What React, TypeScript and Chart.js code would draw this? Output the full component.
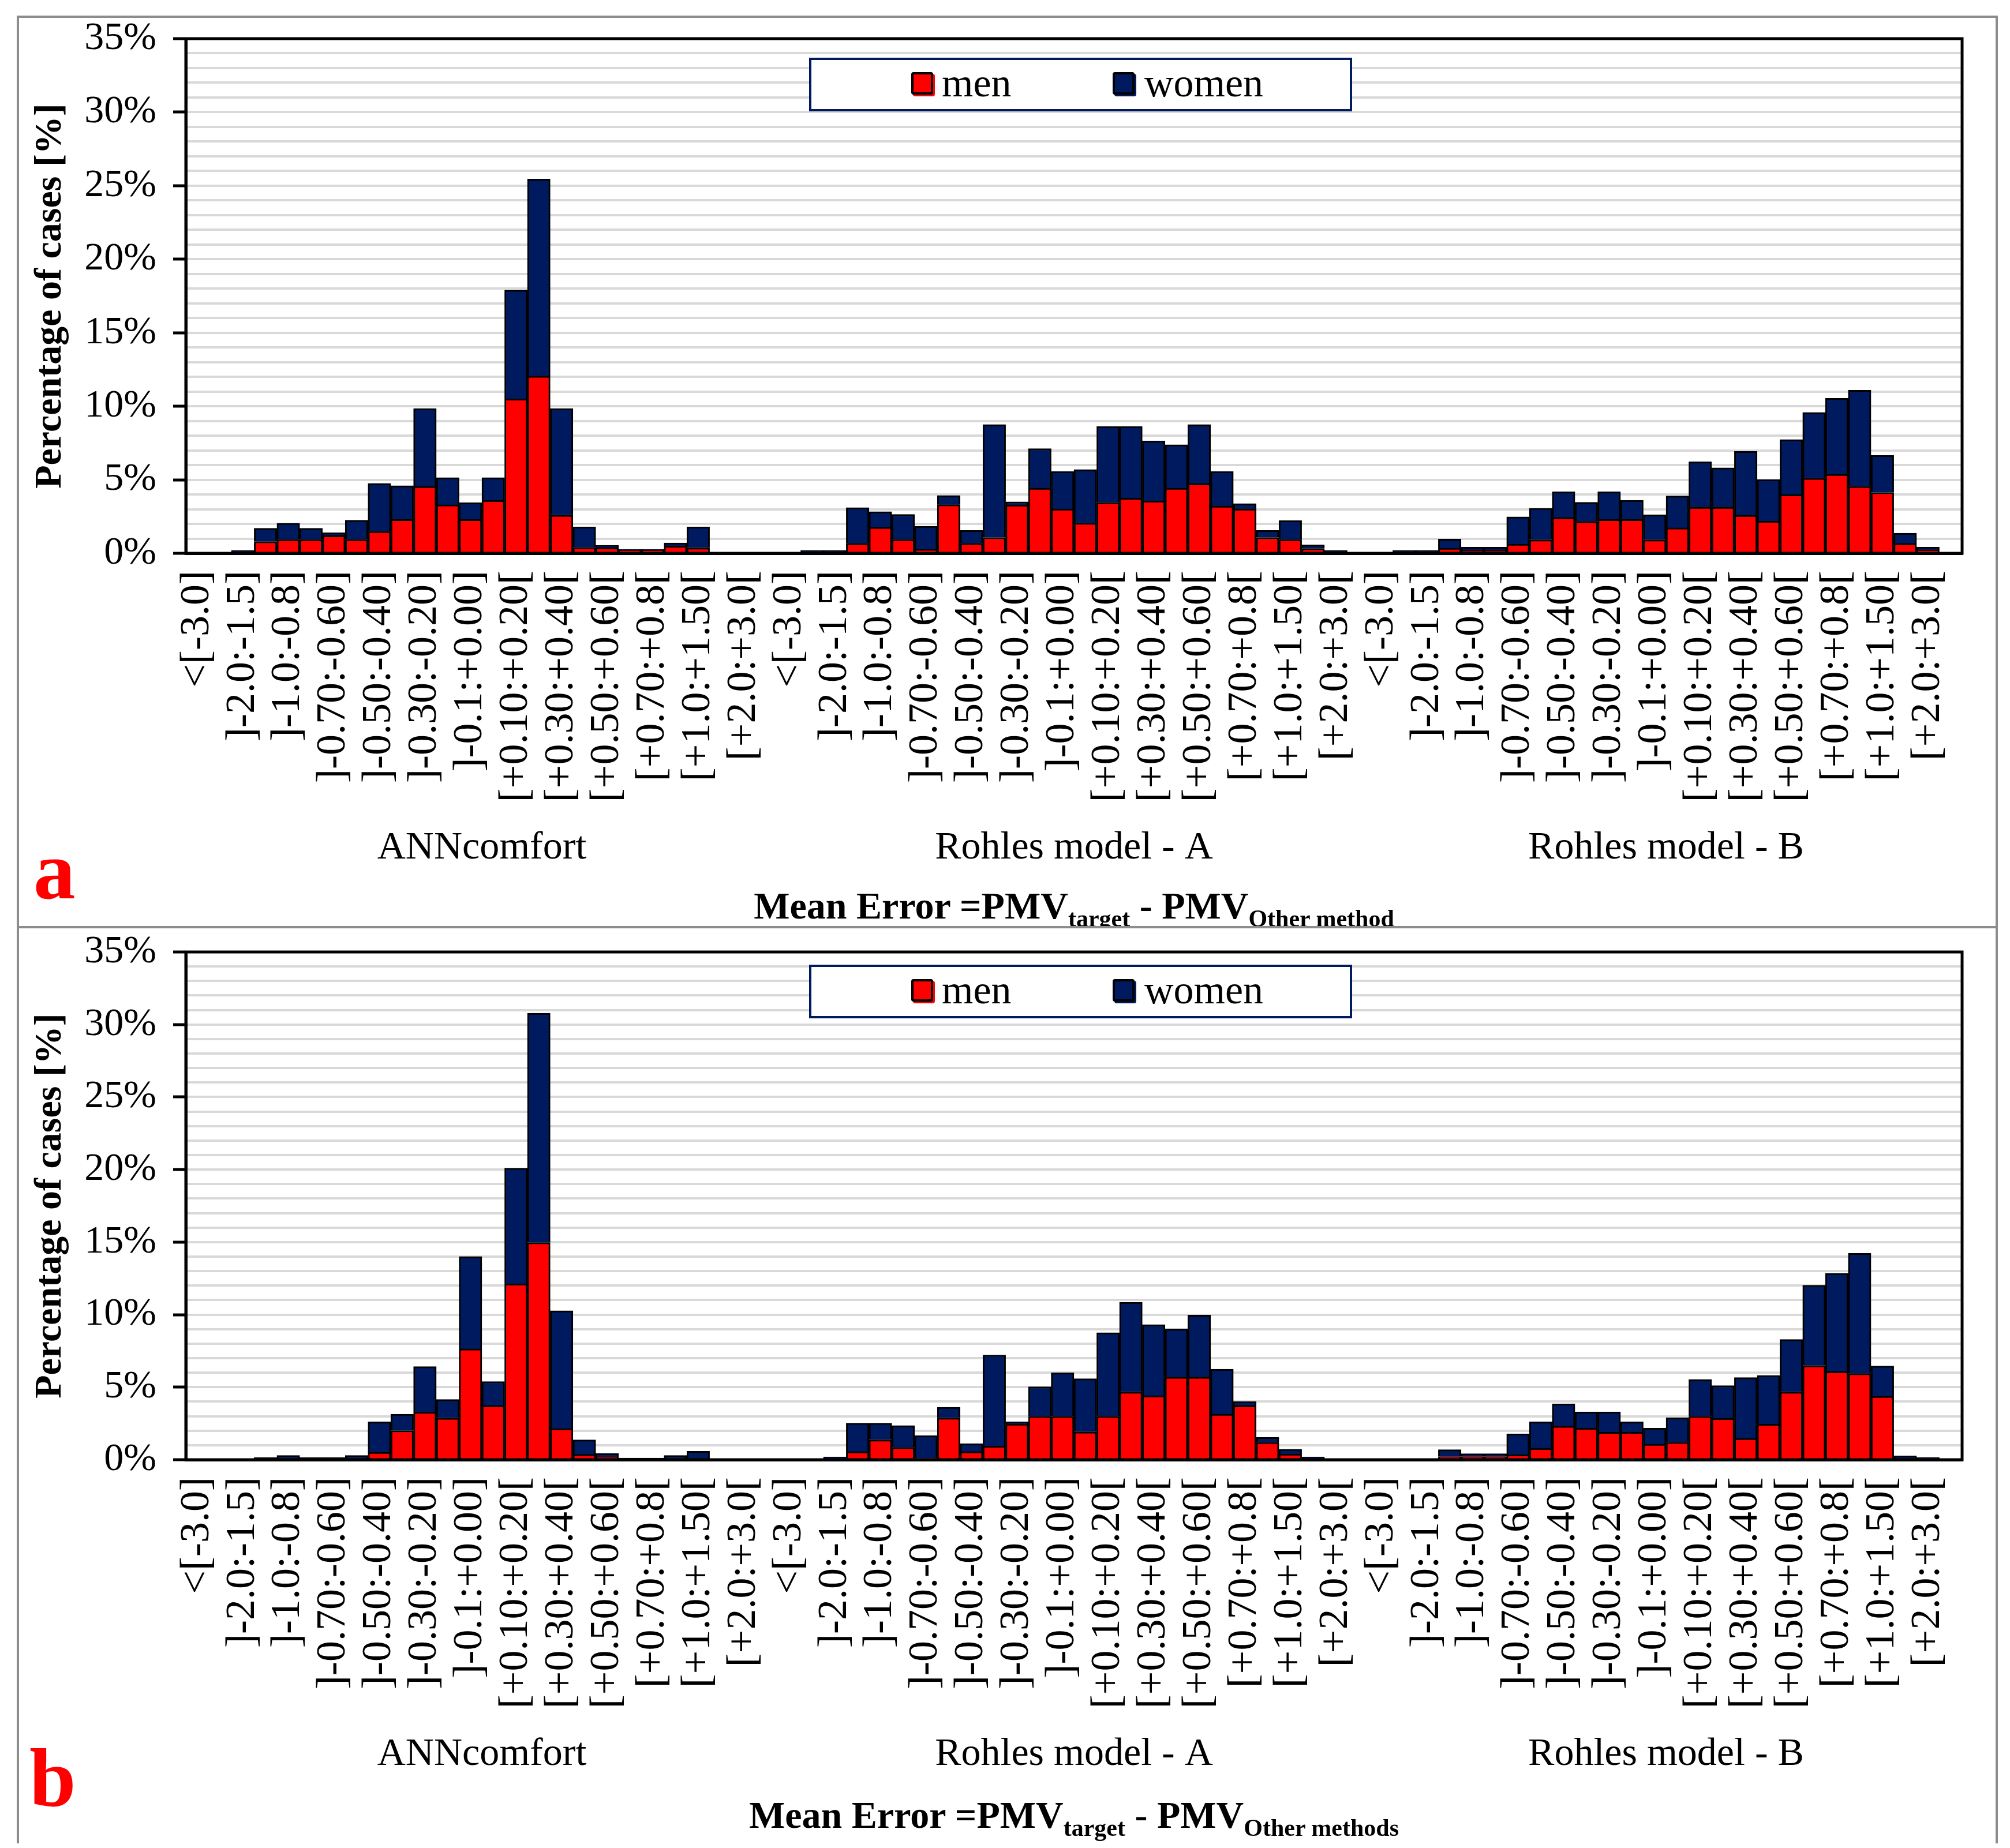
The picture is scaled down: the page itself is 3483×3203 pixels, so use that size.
import React, { useEffect, useRef } from 'react';
import { Chart, registerables } from 'chart.js';

Chart.register(...registerables);

// ---------- data ----------
const binLabels = [
  '<[-3.0]', '[-3.0:-2.0]', ']-2.0:-1.5]', ']-1.5:-1.0]', ']-1.0:-0.8]', ']-0.8:-0.70]',
  ']-0.70:-0.60]', ']-0.60:-0.50]', ']-0.50:-0.40]', ']-0.40:-0.30]', ']-0.30:-0.20]', ']-0.20:-0.1]',
  ']-0.1:+0.00]', '[0.00:+0.10[', '[+0.10:+0.20[', '[+0.20:+0.30[', '[+0.30:+0.40[', '[+0.40:+0.50[',
  '[+0.50:+0.60[', '[+0.60:+0.70[', '[+0.70:+0.8[', '[+0.8:+1.0[', '[+1.0:+1.50[', '[+1.50:+2.0[',
  '[+2.0:+3.0[', '>[+3.0[',
];
const methods = ['ANNcomfort', 'Rohles model - A', 'Rohles model - B'];
const yTickValues = [0, 5, 10, 15, 20, 25, 30, 35];

// panel a
const annMenA = [0, 0, 0.05, 0.8, 0.95, 0.95, 1.2, 0.95, 1.5, 2.3, 4.55, 3.3, 2.3, 3.6, 10.5, 12.05, 2.6, 0.4, 0.38, 0.22, 0.22, 0.5, 0.37, 0, 0, 0];
const annWomenA = [0, 0, 0.15, 0.9, 1.1, 0.75, 0.2, 1.3, 3.25, 2.3, 5.3, 1.85, 1.15, 1.55, 7.4, 13.4, 7.25, 1.4, 0.17, 0.05, 0.05, 0.2, 1.43, 0, 0, 0];
const rohAMenA = [0, 0.05, 0.05, 0.68, 1.77, 0.95, 0.26, 3.31, 0.68, 1.08, 3.29, 4.43, 3.02, 2.06, 3.47, 3.75, 3.57, 4.43, 4.73, 3.21, 3.02, 1.08, 0.95, 0.33, 0.05, 0];
const rohAWomenA = [0, 0.15, 0.15, 2.43, 1.06, 1.7, 1.58, 0.62, 0.88, 7.68, 0.21, 2.69, 2.55, 3.64, 5.16, 4.88, 4.08, 2.95, 4.03, 2.36, 0.36, 0.48, 1.27, 0.25, 0.15, 0];
const rohBMenA = [0, 0.05, 0.05, 0.35, 0.18, 0.18, 0.62, 0.92, 2.43, 2.17, 2.3, 2.3, 0.92, 1.73, 3.14, 3.14, 2.59, 2.19, 3.99, 5.11, 5.37, 4.56, 4.14, 0.66, 0.22, 0];
const rohBWomenA = [0, 0.15, 0.15, 0.62, 0.24, 0.24, 1.86, 2.15, 1.76, 1.3, 1.89, 1.31, 1.71, 2.17, 3.09, 2.67, 4.34, 2.83, 3.75, 4.47, 5.17, 6.53, 2.52, 0.71, 0.2, 0];

// panel b
const annMenB = [0, 0, 0, 0.03, 0.05, 0.03, 0.03, 0.05, 0.51, 2.01, 3.29, 2.87, 7.64, 3.74, 12.13, 14.97, 2.14, 0.36, 0.19, 0.03, 0.03, 0.05, 0.05, 0, 0, 0];
const annWomenB = [0, 0, 0, 0.12, 0.25, 0.12, 0.12, 0.25, 2.1, 1.13, 3.13, 1.28, 6.37, 1.65, 7.97, 15.81, 8.13, 1.01, 0.24, 0.09, 0.09, 0.25, 0.53, 0, 0, 0];
const rohAMenB = [0, 0, 0.05, 0.55, 1.37, 0.85, 0.1, 2.88, 0.55, 0.94, 2.46, 3.0, 3.0, 1.92, 3.0, 4.67, 4.41, 5.69, 5.69, 3.14, 3.73, 1.2, 0.39, 0.05, 0, 0];
const rohAWomenB = [0, 0, 0.15, 1.97, 1.15, 1.5, 1.56, 0.74, 0.56, 6.28, 0.15, 2.03, 2.99, 3.66, 5.76, 6.18, 4.9, 3.33, 4.28, 3.1, 0.28, 0.34, 0.33, 0.15, 0, 0];
const rohBMenB = [0, 0, 0, 0.21, 0.21, 0.21, 0.34, 0.78, 2.31, 2.17, 1.9, 1.9, 1.07, 1.21, 3.0, 2.85, 1.47, 2.45, 4.67, 6.49, 6.08, 5.94, 4.37, 0.05, 0.05, 0];
const rohBWomenB = [0, 0, 0, 0.48, 0.2, 0.2, 1.45, 1.83, 1.54, 1.13, 1.4, 0.71, 1.1, 1.68, 2.54, 2.26, 4.19, 3.36, 3.62, 5.54, 6.77, 8.29, 2.09, 0.22, 0.11, 0];

// ---------- styles ----------
const RED = '#ff0000';
const NAVY = '#001a5f';
const FONT = "'Liberation Serif', 'DejaVu Serif', serif";
const INNER_W = 3425;

const plotBorder = {
  id: 'plotBorder',
  afterDatasetsDraw(chart: any) {
    const { ctx, chartArea } = chart;
    const { left, top, right, bottom } = chartArea;
    ctx.save();
    ctx.strokeStyle = '#000';
    ctx.lineWidth = 5;
    ctx.strokeRect(left, top, right - left, bottom - top);
    ctx.restore();
  },
};

const zeroPad = (s: any) => {
  s.paddingLeft = 0;
  s.paddingRight = 0;
  s.paddingTop = 0;
  s.paddingBottom = 0;
};

type PanelProps = {
  outerTop: number;
  outerHeight: number;
  letter: string;
  men: number[];
  women: number[];
  areaTop: number;
  areaHeight: number;
  titleSub: string;
  letterLeft: number;
  letterBaseline: number;
  titleBaseline: number;
  legendTop: number;
};

function Panel(p: PanelProps) {
  const ref = useRef<HTMLCanvasElement | null>(null);
  const innerH = p.outerHeight - 8;

  useEffect(() => {
    if (!ref.current) return;
    const labels = [...binLabels, ...binLabels, ...binLabels];
    const X_H = 440;
    const X2_H = 120;
    const bottomPad = innerH - (p.areaTop + p.areaHeight) - X_H - X2_H;
    const chart = new Chart(ref.current, {
      type: 'bar',
      data: {
        labels,
        datasets: [
          {
            label: 'men',
            data: p.men,
            backgroundColor: RED,
            borderColor: '#000',
            borderWidth: 3,
          },
          {
            label: 'women',
            data: p.women,
            backgroundColor: NAVY,
            borderColor: '#000',
            borderWidth: 3,
          },
        ],
      },
      options: {
        animation: false,
        responsive: false,
        devicePixelRatio: 1,
        datasets: { bar: { barPercentage: 1, categoryPercentage: 1 } },
        layout: {
          autoPadding: false,
          padding: { left: 15, right: 58, top: p.areaTop, bottom: bottomPad },
        },
        plugins: { legend: { display: false }, tooltip: { enabled: false } },
        scales: {
          x: {
            stacked: true,
            weight: 0,
            grid: { display: false, drawTicks: false },
            border: { display: true, color: '#000', width: 5 },
            ticks: {
              autoSkip: false,
              minRotation: 90,
              maxRotation: 90,
              padding: 30,
              color: '#000',
              font: { family: FONT, size: 72 },
              callback: function (this: any, value: any, index: number) {
                return index % 2 === 0 ? this.getLabelForValue(value) : '';
              },
            },
            afterFit: (s: any) => {
              s.height = X_H;
              zeroPad(s);
            },
          },
          x2: {
            type: 'category',
            labels: methods,
            position: 'bottom',
            weight: 1,
            offset: true,
            grid: { display: false, drawTicks: false },
            border: { display: false },
            ticks: {
              autoSkip: false,
              maxRotation: 0,
              minRotation: 0,
              padding: 30,
              color: '#000',
              font: { family: FONT, size: 68 },
            },
            afterFit: (s: any) => {
              s.height = X2_H;
              zeroPad(s);
            },
          },
          y: {
            stacked: true,
            min: 0,
            max: 35,
            border: { display: true, color: '#000', width: 5 },
            grid: {
              color: '#d9d9d9',
              lineWidth: 4,
              drawTicks: true,
              tickLength: 22,
              tickWidth: 5,
              tickColor: (ctx: any) =>
                ctx.tick && yTickValues.includes(ctx.tick.value) ? '#000' : 'rgba(0,0,0,0)',
            },
            ticks: {
              stepSize: 1,
              autoSkip: false,
              padding: 29,
              color: '#000',
              font: { family: FONT, size: 68 },
              callback: (v: any) => (yTickValues.includes(Number(v)) ? v + '%' : ''),
            },
            title: {
              display: true,
              text: 'Percentage of cases [%]',
              color: '#000',
              padding: { top: 0, bottom: 0 },
              font: { family: FONT, size: 66, weight: 'bold' },
            },
            afterFit: (s: any) => {
              s.width = 274;
              zeroPad(s);
            },
          },
        },
      },
      plugins: [plotBorder],
    } as any);
    return () => chart.destroy();
  }, []);

  const swatch = (color: string, left: number): React.CSSProperties => ({
    position: 'absolute',
    left,
    top: 21,
    width: 38,
    height: 39,
    boxSizing: 'border-box',
    background: color,
    border: '4px solid #000',
    borderRadius: 4,
    boxShadow: `3px 3px 0 ${color}`,
  });
  const legendText: React.CSSProperties = {
    position: 'absolute',
    top: 0,
    height: 85,
    lineHeight: '80px',
    fontFamily: FONT,
    fontSize: 70,
    color: '#000',
    whiteSpace: 'nowrap',
  };
  const subStyle: React.CSSProperties = { fontSize: 42, lineHeight: 0, verticalAlign: '-14px' };

  return (
    <div
      style={{
        position: 'absolute',
        left: 21,
        top: p.outerTop,
        width: INNER_W + 8,
        height: p.outerHeight,
        border: '4px solid #8c8c8c',
        boxSizing: 'border-box',
        background: '#fff',
      }}
    >
      <canvas ref={ref} width={INNER_W} height={innerH} style={{ display: 'block' }} />
      <div
        style={{
          position: 'absolute',
          left: 1369,
          top: p.legendTop,
          width: 941,
          height: 93,
          boxSizing: 'border-box',
          border: '4px solid ' + NAVY,
          background: '#fff',
        }}
      >
        <div style={swatch(RED, 173)} />
        <div style={{ ...legendText, left: 226 }}>men</div>
        <div style={swatch(NAVY, 522)} />
        <div style={{ ...legendText, left: 577 }}>women</div>
      </div>
      <div
        style={{
          position: 'absolute',
          left: p.letterLeft,
          top: p.letterBaseline - 121,
          fontFamily: FONT,
          fontWeight: 'bold',
          fontSize: 145,
          lineHeight: '145px',
          color: RED,
        }}
      >
        {p.letter}
      </div>
      <div
        style={{
          position: 'absolute',
          left: 1828,
          top: p.titleBaseline - 55,
          transform: 'translateX(-50%)',
          whiteSpace: 'nowrap',
          fontFamily: FONT,
          fontWeight: 'bold',
          fontSize: 66,
          lineHeight: '66px',
          color: '#000',
        }}
      >
        Mean Error =PMV<sub style={subStyle}>target</sub> - PMV<sub style={subStyle}>{p.titleSub}</sub>
      </div>
    </div>
  );
}

export default function App() {
  const menA = [...annMenA, ...rohAMenA, ...rohBMenA];
  const womenA = [...annWomenA, ...rohAWomenA, ...rohBWomenA];
  const menB = [...annMenB, ...rohAMenB, ...rohBMenB];
  const womenB = [...annWomenB, ...rohAWomenB, ...rohBWomenB];
  return (
    <div style={{ position: 'relative', width: 3467, height: 3187 }}>
      <Panel
        outerTop={19}
        outerHeight={1582}
        letter="a"
        men={menA}
        women={womenA}
        areaTop={36}
        areaHeight={892}
        titleSub="Other method"
        letterLeft={25}
        letterBaseline={1526}
        titleBaseline={1561}
        legendTop={69}
      />
      <Panel
        outerTop={1597}
        outerHeight={1594}
        letter="b"
        men={menB}
        women={womenB}
        areaTop={41}
        areaHeight={880}
        titleSub="Other methods"
        letterLeft={18}
        letterBaseline={1521}
        titleBaseline={1559}
        legendTop={63}
      />
    </div>
  );
}
